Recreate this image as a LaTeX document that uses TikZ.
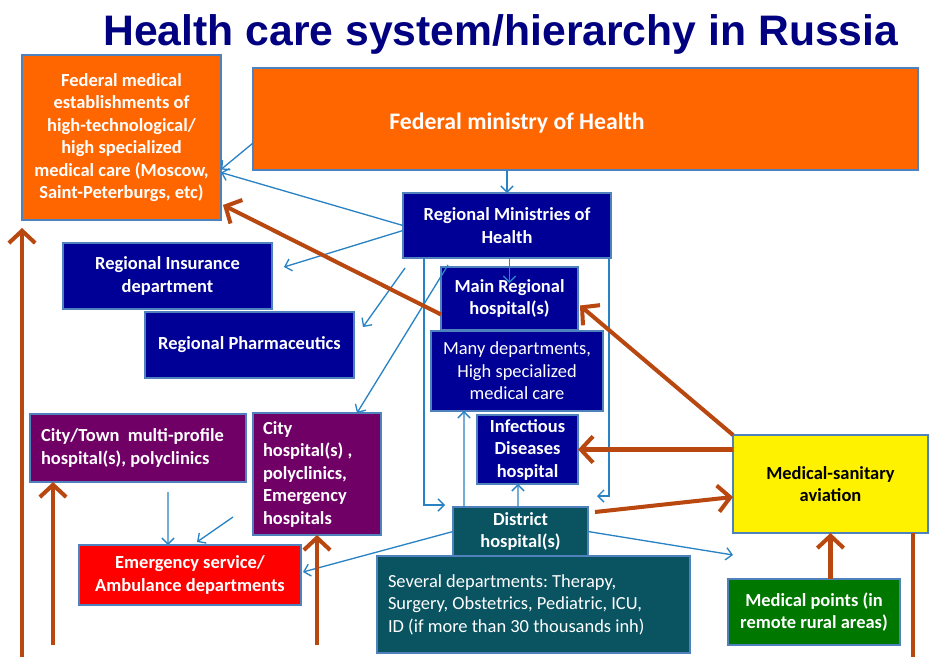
\documentclass[tikz,border=0pt]{standalone}
\usepackage{fontspec}
\setmainfont{Carlito}
\newfontfamily\titlefont{Liberation Sans}
\usetikzlibrary{arrows.meta}
\usetikzlibrary{positioning}
\frenchspacing

\definecolor{fedorange}{RGB}{255,102,0}
\definecolor{regblue}{RGB}{0,0,150}
\definecolor{cityviolet}{RGB}{112,0,102}
\definecolor{districtteal}{RGB}{10,84,98}
\definecolor{ruralgreen}{RGB}{0,120,0}
\definecolor{edgeblue}{RGB}{79,129,189}
\definecolor{linkblue}{RGB}{40,130,195}
\definecolor{flowbrown}{RGB}{185,72,16}
\definecolor{titlenavy}{RGB}{0,0,128}

\tikzstyle{thinlink} = [draw=linkblue, line width=0.75pt, -{Straight Barb[length=3.5pt,width=7pt]}]
\tikzstyle{flow} = [draw=flowbrown, line width=2.3pt, -{Straight Barb[length=7pt,width=15pt]}]

\begin{document}
\begin{tikzpicture}[x=0.02cm, y=-0.02cm,
                      unit box/.style={draw=edgeblue, line width=0.8pt, text=white,
                        inner xsep=0.1cm, inner ysep=0pt, outer sep=0pt, align=center,
                        font=\fontsize{10.5}{12.8}\selectfont\bfseries},
                      fed node/.style={unit box, fill=fedorange},
                      reg node/.style={unit box, fill=regblue},
                      city node/.style={unit box, fill=cityviolet},
                      district node/.style={unit box, fill=districtteal}]
  \useasboundingbox (0,0) rectangle (931,657);
  \coordinate (floor) at (0,657);

  \node[anchor=base west, inner sep=0pt, text=titlenavy,
        font=\titlefont\bfseries\fontsize{24.3}{28}\selectfont] (title) at (103,45)
        {Health care system/hierarchy in Russia};

  % federal level
  \node[fed node, minimum width=3.98cm, minimum height=3.30cm] (fedest) at (121.5,137.5)
        {Federal medical\\establishments of\\high-technological/\\high specialized\\medical care (Moscow,\\Saint-Peterburgs, etc)};
  \node[fed node, minimum width=13.3cm, minimum height=2.04cm] (ministry) at (585.5,119) {};
  \node[text=white, font=\fontsize{13.5}{16}\selectfont\bfseries] (ministrylabel) at (517,123)
        {Federal ministry of Health};

  % regional level
  \node[reg node, minimum width=4.16cm, minimum height=1.30cm] (regmin) at (507,225.5)
        {Regional Ministries of\\Health};
  \node[reg node, minimum width=4.18cm, minimum height=1.32cm] (insurance) at (167.5,276)
        {Regional Insurance\\department};
  \node[reg node, minimum width=4.18cm, minimum height=1.32cm] (pharma) at (249.5,345)
        {Regional Pharmaceutics};
  \node[reg node, minimum width=2.74cm, minimum height=1.26cm] (mainreg) at (509.5,298.5)
        {Main Regional\\hospital(s)};
  \node[reg node, font=\fontsize{10.5}{12.8}\selectfont, minimum width=3.44cm, minimum height=1.60cm,
        below=0.02cm of mainreg, xshift=0.15cm] (manydep)
        {Many departments,\\High specialized\\medical care};
  \node[reg node, minimum width=2.02cm, minimum height=1.38cm,
        below=0.08cm of manydep, xshift=0.21cm] (infect)
        {Infectious\\Diseases\\hospital};

  % district level
  \node[district node, minimum width=2.70cm, minimum height=0.98cm] (district) at (520.5,531.5)
        {District\\hospital(s)};
  \node[district node, font=\fontsize{10.5}{12.8}\selectfont, align=flush left, inner xsep=0.22cm,
        text width=5.82cm, minimum width=6.26cm, minimum height=1.94cm,
        below=0cm of district, xshift=0.26cm] (several)
        {Several departments: Therapy,\\Surgery, Obstetrics, Pediatric, ICU,\\ID (if more than 30 thousands inh)};

  % city level
  \node[city node, align=flush left, inner xsep=0.22cm, text width=3.88cm,
        minimum width=4.32cm, minimum height=1.36cm] (citytown) at (138,448)
        {City/Town~ multi-profile\\hospital(s), polyclinics};
  \node[city node, align=flush left, inner xsep=0.2cm, text width=2.16cm,
        minimum width=2.56cm, minimum height=2.44cm] (cityhosp) at (317,474)
        {City\\hospital(s) ,\\polyclinics,\\Emergency\\hospitals};
  \node[unit box, fill=red, minimum width=4.44cm, minimum height=1.20cm] (emerg) at (190,575)
        {Emergency service/\\Ambulance departments};

  % aviation and rural points
  \node[unit box, fill=yellow, text=black, minimum width=3.90cm, minimum height=1.96cm] (aviation) at (830.5,484)
        {Medical-sanitary\\aviation};
  \node[unit box, fill=ruralgreen, minimum width=3.44cm, minimum height=1.32cm,
        below=0.92cm of aviation, xshift=-0.33cm] (medpoints)
        {Medical points (in\\remote rural areas)};

  % subordination links
  \draw[thinlink] ([yshift=-0.48cm]ministry.west) -- ([yshift=-0.64cm]fedest.east);
  \draw[thinlink] (ministry.south -| regmin.north) -- (regmin.north);
  \draw[thinlink] (regmin.west) -- ([yshift=-0.70cm]fedest.east);
  \draw[thinlink] ([yshift=-0.1cm]regmin.west) -- ([xshift=0.24cm,yshift=0.18cm]insurance.east);
  \draw[thinlink] ([xshift=0.04cm,yshift=-0.2cm]regmin.south west) -- ([xshift=0.18cm,yshift=-0.3cm]pharma.north east);
  \draw[thinlink] ([xshift=0.9cm,yshift=-0.14cm]regmin.south west) -- ([xshift=0.8cm]cityhosp.north);
  \draw[thinlink] (regmin.south -| mainreg.north) -- ([yshift=-0.32cm]mainreg.north);
  \draw[thinlink] ([xshift=0.42cm]regmin.south west) |- ([xshift=-0.16cm,yshift=0.04cm]district.north west);
  \draw[thinlink] ([xshift=-0.04cm]regmin.south east) |- ([xshift=0.18cm,yshift=0.22cm]district.north east);

  \draw[thinlink] ([xshift=0.22cm]district.north west) -- ([xshift=0.66cm]manydep.south west);
  \draw[thinlink] ([xshift=-0.05cm]district.north) -- ([xshift=-0.19cm]infect.south);
  \draw[thinlink] (district.west) -- ([xshift=0.04cm,yshift=0.06cm]emerg.east);
  \draw[thinlink] (district.east) -- ([yshift=-0.44cm]aviation.south west);

  \draw[thinlink] ([xshift=0.6cm,yshift=-0.2cm]citytown.south) -- ([xshift=-0.44cm]emerg.north);
  \draw[thinlink] ([xshift=-0.4cm,yshift=-0.86cm]cityhosp.west) -- ([xshift=0.14cm,yshift=0.06cm]emerg.north);

  % patient flows
  \draw[flow] ([yshift=-0.32cm]mainreg.west) -- ([xshift=0.04cm,yshift=0.3cm]fedest.south east);
  \draw[flow] (aviation.north west) -- ([xshift=0.04cm,yshift=-0.14cm]mainreg.east);
  \draw[flow] (aviation.west |- infect.east) -- (infect.east);
  \draw[flow] ([xshift=0.14cm,yshift=0.39cm]district.east) -- ([yshift=-0.26cm]aviation.west);
  \draw[flow] (medpoints.north -| aviation.south) -- (aviation.south);
  \draw[flow] (fedest.south west |- floor) -- ([yshift=-0.16cm]fedest.south west);
  \draw[flow] ([xshift=0.46cm,yshift=-3.26cm]citytown.south west) -- ([xshift=0.46cm]citytown.south west);
  \draw[flow] ([yshift=-2.2cm]cityhosp.south) -- (cityhosp.south);
  \draw[flow, -] ([xshift=-0.3cm]aviation.south east) -- ++(0,124);
\end{tikzpicture}
\end{document}
